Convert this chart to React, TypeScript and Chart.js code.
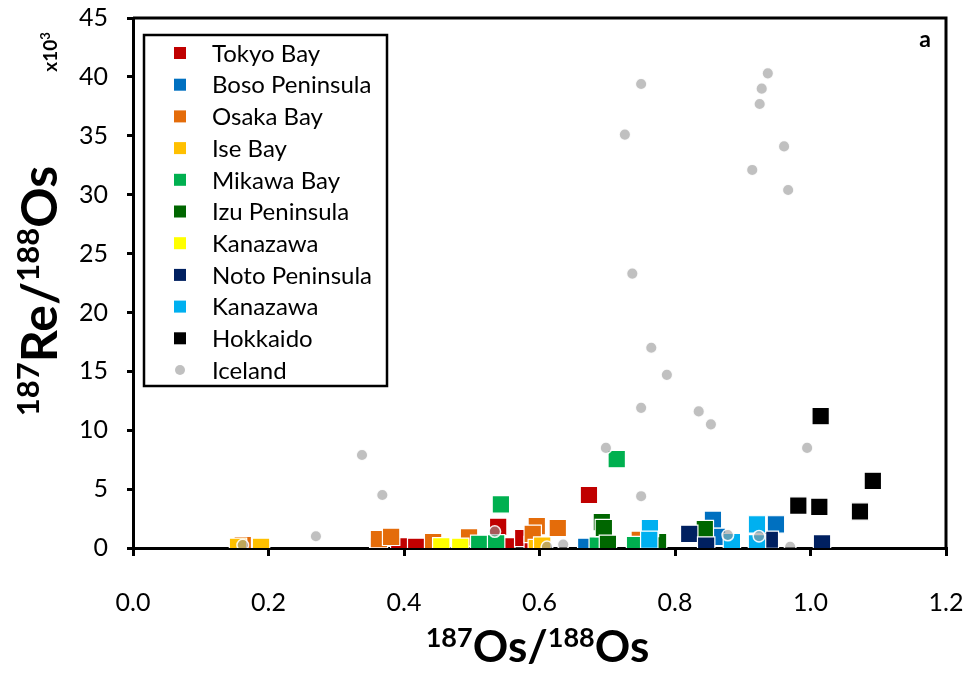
import { useEffect, useRef } from "react";
import { Chart, registerables } from "chart.js";

Chart.register(...registerables);

// Sample groups (legend order)
const seriesNames = [
  "Tokyo Bay",
  "Boso Peninsula",
  "Osaka Bay",
  "Ise Bay",
  "Mikawa Bay",
  "Izu Peninsula",
  "Kanazawa",
  "Noto Peninsula",
  "Kanazawa",
  "Hokkaido",
  "Iceland",
];

// 187Os/188Os (x) and 187Re/188Os in thousands (y) per group
const tokyoBayX = [0.362, 0.393, 0.418, 0.539, 0.551, 0.576, 0.59, 0.673];
const tokyoBayY = [0.15, 0.15, 0.1, 1.8, 0.15, 0.85, 0.25, 4.5];

const bosoX = [0.669, 0.856, 0.862, 0.949];
const bosoY = [0.1, 2.4, 0.95, 2.0];

const osakaBayX = [0.162, 0.363, 0.381, 0.443, 0.496, 0.596, 0.59, 0.627, 0.748];
const osakaBayY = [0.25, 0.75, 0.95, 0.5, 0.9, 1.85, 1.2, 1.7, 0.7];

const iseBayX = [0.155, 0.189, 0.596, 0.604];
const iseBayY = [0.1, 0.1, 0.0, 0.2];

const mikawaBayX = [0.714, 0.543, 0.511, 0.536, 0.686, 0.741];
const mikawaBayY = [7.55, 3.7, 0.35, 0.4, 0.2, 0.25];

const izuX = [0.692, 0.695, 0.701, 0.775, 0.844];
const izuY = [2.2, 1.7, 0.35, 0.5, 1.6];

const kanazawaYellowX = [0.455, 0.483];
const kanazawaYellowY = [0.15, 0.1];

const notoX = [1.017, 0.821, 0.846, 0.94];
const notoY = [0.4, 1.2, 0.2, 0.7];

const kanazawaBlueX = [0.763, 0.762, 0.884, 0.921, 0.921];
const kanazawaBlueY = [1.7, 0.7, 0.5, 2.0, 0.4];

const hokkaidoX = [1.015, 1.092, 0.982, 1.013, 1.073];
const hokkaidoY = [11.2, 5.7, 3.6, 3.5, 3.1];

const icelandX = [
  0.937, 0.928, 0.925, 0.75, 0.726, 0.961, 0.914, 0.967, 0.737, 0.765, 0.788,
  0.75, 0.835, 0.853, 0.995, 0.698, 0.75, 0.338, 0.368, 0.27, 0.162, 0.534,
  0.611, 0.635, 0.878, 0.924, 0.97,
];
const icelandY = [
  40.3, 39.0, 37.7, 39.4, 35.1, 34.1, 32.1, 30.4, 23.3, 17.0, 14.7, 11.9, 11.6,
  10.5, 8.5, 8.5, 4.4, 7.9, 4.5, 1.0, 0.25, 1.4, 0.1, 0.3, 1.1, 1.0, 0.1,
];

const seriesX = [
  tokyoBayX, bosoX, osakaBayX, iseBayX, mikawaBayX, izuX,
  kanazawaYellowX, notoX, kanazawaBlueX, hokkaidoX, icelandX,
];
const seriesY = [
  tokyoBayY, bosoY, osakaBayY, iseBayY, mikawaBayY, izuY,
  kanazawaYellowY, notoY, kanazawaBlueY, hokkaidoY, icelandY,
];

const xTickValues = [0, 0.2, 0.4, 0.6, 0.8, 1.0, 1.2];
const yTickValues = [0, 5, 10, 15, 20, 25, 30, 35, 40, 45];

// Styling
const seriesColors = [
  "#C00000", "#0070C0", "#E46C0A", "#FFC000", "#00B050", "#006600",
  "#FFFF00", "#002060", "#00B0F0", "#000000", "rgba(150,150,150,0.6)",
];
const FONT = "Lato, 'Open Sans', sans-serif";

type Part = { t: string; sup?: boolean };

function drawRich(
  ctx: CanvasRenderingContext2D,
  parts: Part[],
  cx: number,
  baseline: number,
  mainSize: number,
  supSize: number,
  rise: number
) {
  const mainFont = `bold ${mainSize}px ${FONT}`;
  const supFont = `bold ${supSize}px ${FONT}`;
  let total = 0;
  const widths = parts.map((p) => {
    ctx.font = p.sup ? supFont : mainFont;
    const w = ctx.measureText(p.t).width;
    total += w;
    return w;
  });
  let x = cx - total / 2;
  ctx.textAlign = "left";
  ctx.textBaseline = "alphabetic";
  parts.forEach((p, i) => {
    ctx.font = p.sup ? supFont : mainFont;
    ctx.fillText(p.t, x, p.sup ? baseline - rise : baseline);
    x += widths[i];
  });
}

const framePlugin = {
  id: "frame",
  beforeDatasetsDraw(chart: any) {
    const { ctx, chartArea } = chart;
    ctx.save();
    ctx.strokeStyle = "#000";
    ctx.lineWidth = 3;
    ctx.beginPath();
    ctx.moveTo(chartArea.left, chartArea.top);
    ctx.lineTo(chartArea.right, chartArea.top);
    ctx.lineTo(chartArea.right, chartArea.bottom);
    ctx.stroke();
    ctx.restore();
  },
};

const annotationPlugin = {
  id: "annotations",
  afterDraw(chart: any) {
    const { ctx, chartArea } = chart;
    ctx.save();
    ctx.fillStyle = "#000";

    // axis titles with superscripted mass numbers
    const xParts: Part[] = [
      { t: "187", sup: true },
      { t: "Os/" },
      { t: "188", sup: true },
      { t: "Os" },
    ];
    drawRich(ctx, xParts, (chartArea.left + chartArea.right) / 2 - 2, 662, 44, 27, 15);

    const yParts: Part[] = [
      { t: "187", sup: true },
      { t: "Re/" },
      { t: "188", sup: true },
      { t: "Os" },
    ];
    ctx.save();
    ctx.translate(57, 291);
    ctx.rotate(-Math.PI / 2);
    drawRich(ctx, yParts, 0, 0, 50, 31, 18);
    ctx.restore();

    // unit multiplier
    ctx.save();
    ctx.translate(57, 52);
    ctx.rotate(-Math.PI / 2);
    drawRich(ctx, [{ t: "x10" }, { t: "3", sup: true }], 0, 0, 19, 13, 7);
    ctx.restore();

    // panel letter
    ctx.fillStyle = "#000";
    ctx.font = `bold 23px ${FONT}`;
    ctx.textAlign = "center";
    ctx.textBaseline = "middle";
    ctx.fillText("a", 925, 40);

    // legend box
    const bx = 144, by = 35, bw = 243, bh = 351;
    ctx.fillStyle = "#fff";
    ctx.fillRect(bx, by, bw, bh);
    ctx.strokeStyle = "#000";
    ctx.lineWidth = 2.5;
    ctx.strokeRect(bx, by, bw, bh);
    const rowH = 31.7;
    chart.data.datasets.forEach((ds: any, i: number) => {
      const cy = by + 18 + i * rowH;
      ctx.fillStyle = ds.backgroundColor;
      if (ds.pointStyle === "circle") {
        ctx.beginPath();
        ctx.arc(180, cy, 5, 0, Math.PI * 2);
        ctx.fill();
      } else {
        ctx.fillRect(174, cy - 6, 12, 12);
      }
      ctx.fillStyle = "#000";
      ctx.font = `24px ${FONT}`;
      ctx.textAlign = "left";
      ctx.textBaseline = "middle";
      ctx.fillText(ds.label, 212, cy + 1);
    });
    ctx.restore();
  },
};

export default function App() {
  const canvasRef = useRef<HTMLCanvasElement | null>(null);

  useEffect(() => {
    const canvas = canvasRef.current;
    if (!canvas) return;
    const n = seriesNames.length;
    const datasets = seriesNames.map((name, i) => {
      const isCircle = i === n - 1;
      return {
        label: name,
        data: seriesX[i].map((x, j) => ({ x, y: seriesY[i][j] })),
        backgroundColor: seriesColors[i],
        borderColor: isCircle ? "rgba(255,255,255,0.9)" : "#ffffff",
        borderWidth: isCircle ? 1.5 : 1.2,
        pointStyle: isCircle ? "circle" : "rect",
        pointRadius: isCircle ? 5.8 : 12.3,
        pointHoverRadius: isCircle ? 5.8 : 12.3,
        order: n - 1 - i,
      };
    });

    const chart = new Chart(canvas, {
      type: "scatter",
      data: { datasets },
      options: {
        responsive: false,
        animation: false,
        devicePixelRatio: 1,
        layout: { padding: { left: 0, top: 18, right: 26, bottom: 0 } },
        plugins: {
          legend: { display: false },
          tooltip: { enabled: false },
        },
        scales: {
          x: {
            type: "linear",
            min: 0,
            max: 1.2,
            afterBuildTicks: (s: any) => {
              s.ticks = xTickValues.map((v) => ({ value: v }));
            },
            afterFit: (s: any) => {
              s.height = 125;
              s.paddingLeft = 0;
              s.paddingRight = 0;
            },
            ticks: {
              color: "#000",
              font: { family: FONT, size: 25 },
              padding: 32,
              callback: (v: any) => Number(v).toFixed(1),
            },
            grid: {
              display: true,
              drawOnChartArea: false,
              drawTicks: true,
              tickLength: 8,
              color: "#000",
              lineWidth: 3,
            },
            border: { display: true, color: "#000", width: 3 },
          },
          y: {
            type: "linear",
            min: 0,
            max: 45,
            afterBuildTicks: (s: any) => {
              s.ticks = yTickValues.map((v) => ({ value: v }));
            },
            afterFit: (s: any) => {
              s.width = 133;
              s.paddingTop = 0;
              s.paddingBottom = 0;
            },
            ticks: {
              color: "#000",
              font: { family: FONT, size: 25 },
              padding: 19,
            },
            grid: {
              display: true,
              drawOnChartArea: false,
              drawTicks: true,
              tickLength: 6,
              color: "#000",
              lineWidth: 3,
            },
            border: { display: true, color: "#000", width: 3 },
          },
        },
      },
      plugins: [framePlugin, annotationPlugin],
    });

    return () => chart.destroy();
  }, []);

  return (
    <div
      style={{
        position: "fixed",
        left: 0,
        top: 0,
        width: 972,
        height: 673,
        background: "#fff",
      }}
    >
      <canvas ref={canvasRef} width={972} height={673} />
    </div>
  );
}
